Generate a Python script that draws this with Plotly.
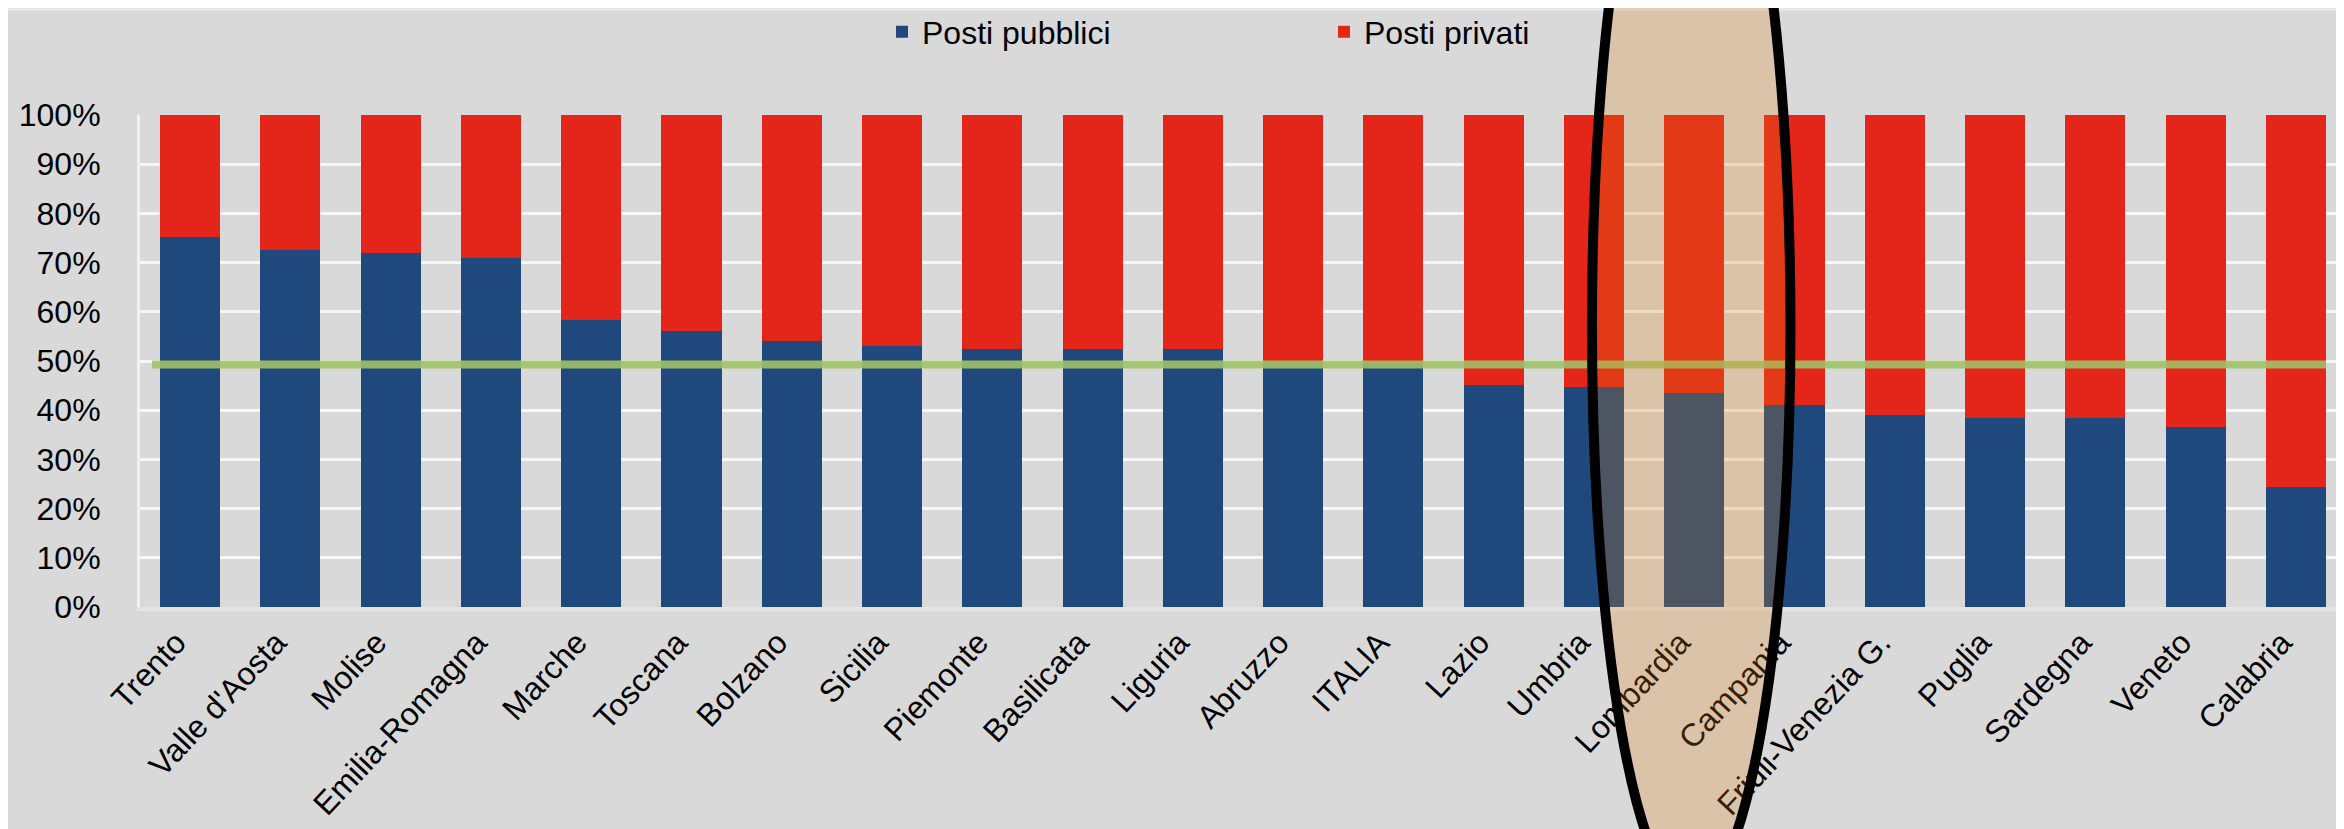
import plotly.graph_objects as go

regions = ["Trento", "Valle d'Aosta", "Molise", "Emilia-Romagna", "Marche", "Toscana",
           "Bolzano", "Sicilia", "Piemonte", "Basilicata", "Liguria", "Abruzzo", "ITALIA",
           "Lazio", "Umbria", "Lombardia", "Campania", "Friuli-Venezia G.", "Puglia",
           "Sardegna", "Veneto", "Calabria"]
posti_pubblici = [75.3, 72.5, 71.9, 71.0, 58.4, 56.1, 54.0, 53.0, 52.4, 52.4, 52.4, 49.8, 49.3,
                  45.1, 44.7, 43.5, 41.1, 39.0, 38.4, 38.4, 36.5, 24.3]
posti_privati = [round(100 - v, 1) for v in posti_pubblici]
italia_media = 49.3
highlight = "Lombardia"
y_ticks = list(range(0, 101, 10))
y_ticktext = [f"{v}%" for v in y_ticks]

BLUE = "#1F497D"
RED = "#E32619"
BG = "#D9D9D9"
FONT = "Liberation Sans, Arial, sans-serif"

W, H = 2344, 829
ML, MR, MT, MB = 132, 6, 107, 230
plot_w = W - ML - MR
plot_h = H - MT - MB

fig = go.Figure()
fig.add_trace(go.Bar(x=regions, y=posti_pubblici, name="Posti pubblici",
                     marker=dict(color=BLUE, line=dict(width=0))))
fig.add_trace(go.Bar(x=regions, y=posti_privati, name="Posti privati",
                     marker=dict(color=RED, line=dict(width=0))))

n = len(regions)
# reference line (national average)
fig.add_shape(type="line", xref="x", yref="y", x0=-0.38, x1=n - 0.7,
              y0=italia_media, y1=italia_media,
              line=dict(color="rgba(160,194,104,0.9)", width=8), layer="above")

# highlight ellipse around Lombardia
hi = regions.index(highlight)
top_px, bot_px = -252, 888
fig.add_shape(type="circle", xref="x", yref="paper",
              x0=hi - 1.02, x1=hi + 0.96,
              y0=(H - MB - bot_px) / plot_h, y1=(H - MB - top_px) / plot_h,
              line=dict(color="black", width=10),
              fillcolor="rgba(225,126,15,0.24)", layer="above")

# thin light strip at the top of the picture
fig.add_shape(type="rect", xref="paper", yref="paper", x0=-0.1, x1=1.1,
              y0=(H - MB) / plot_h, y1=(H - MB - 3) / plot_h,
              line=dict(width=0), fillcolor="#E8E8E8", layer="below")

fig.update_layout(
    template="none",
    width=W, height=H,
    barmode="stack", bargap=0.4,
    paper_bgcolor=BG, plot_bgcolor=BG,
    margin=dict(l=ML, r=MR, t=MT, b=MB, autoexpand=False),
    showlegend=True,
    legend=dict(orientation="h", x=(874 - ML) / plot_w, xanchor="left",
                y=1 + (MT - 24) / plot_h, yanchor="middle",
                font=dict(family=FONT, size=32, color="black"),
                entrywidth=397, entrywidthmode="pixels",
                bgcolor="rgba(0,0,0,0)", traceorder="normal"),
    xaxis=dict(type="category", range=[-0.5, n - 0.5], showgrid=False,
               tickangle=-47, tickfont=dict(family=FONT, size=32, color="black"),
               ticks="", ticklabelstandoff=0, ticklabelshift=-14,
               showline=True, linecolor="#E4E4E4",
               linewidth=4, automargin=False, fixedrange=True),
    yaxis=dict(range=[0, 100], tickvals=y_ticks, ticktext=y_ticktext,
               showgrid=True, gridcolor="#F7F7F7", gridwidth=3,
               tickfont=dict(family=FONT, size=32, color="black"),
               ticks="", ticklabelstandoff=30, showline=True, linecolor="#F2F2F2",
               linewidth=3, zeroline=False, automargin=False, fixedrange=True),
)

fig.write_html("out.html")
